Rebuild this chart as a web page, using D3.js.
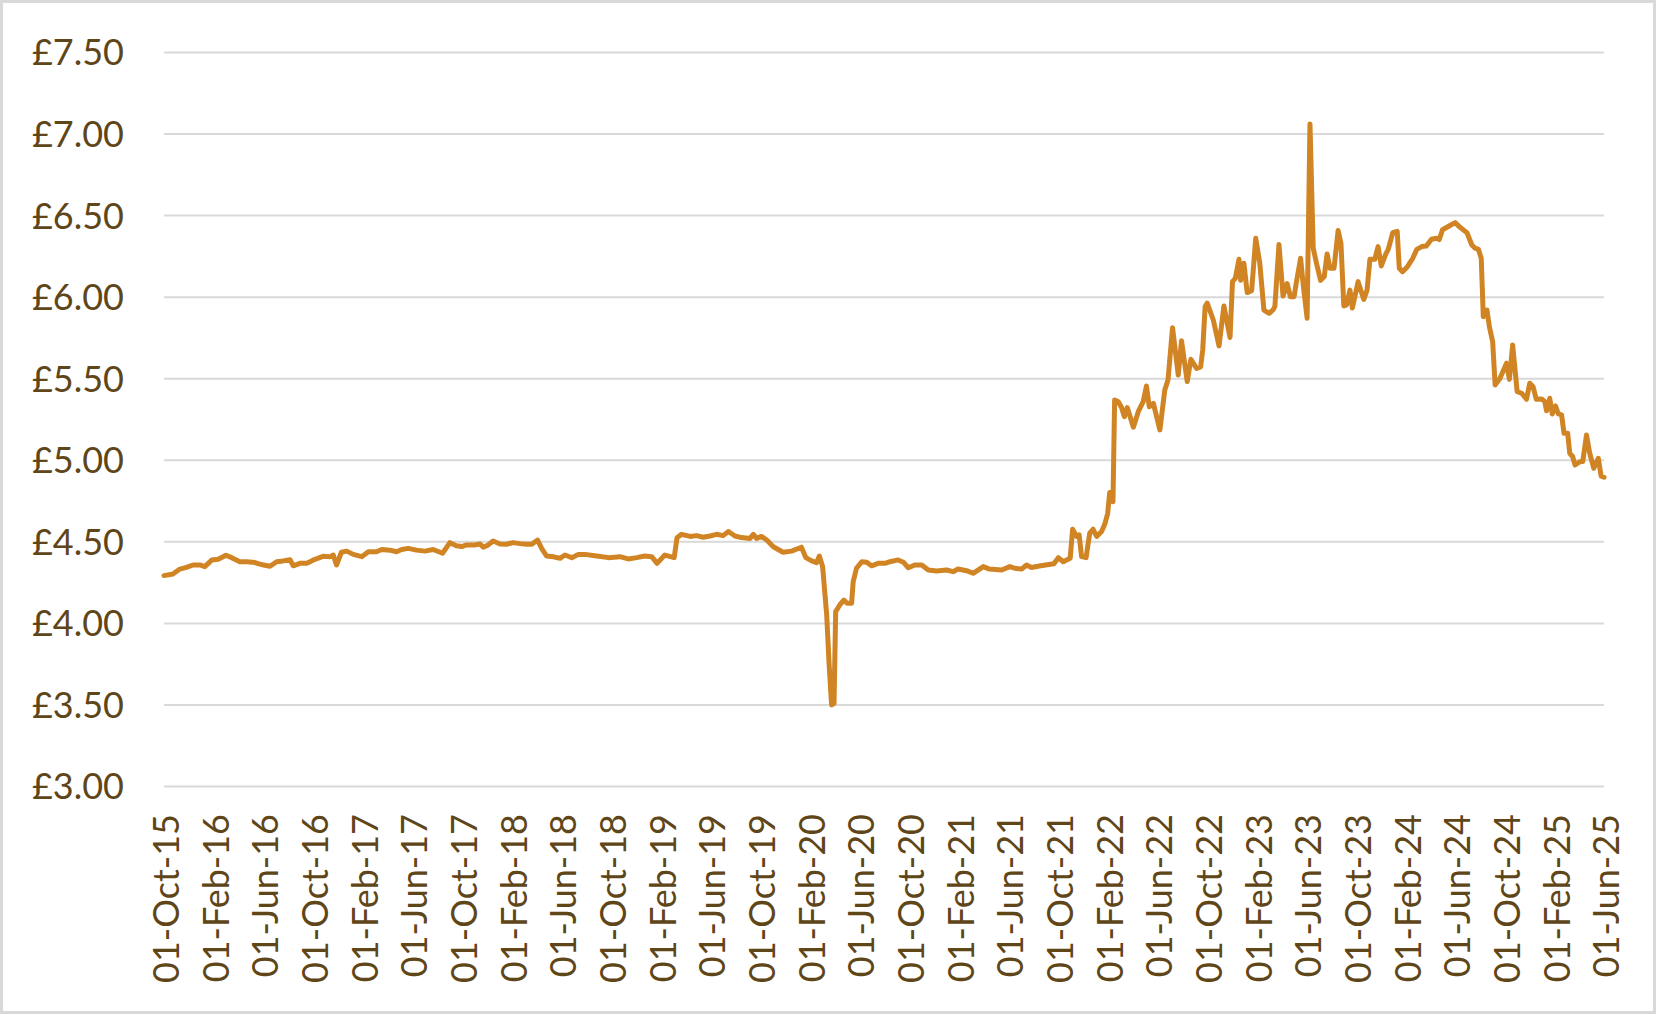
<!DOCTYPE html>
<html lang="en">
<head>
    <meta charset="UTF-8">
    <title>Weekly price</title>
    <script src="https://d3js.org/d3.v7.min.js"></script>
    <style>
        body {
            margin: 0;
            background: #fff;
        }
        .axis text {
            font-family: 'Lato', 'Open Sans', sans-serif;
            font-size: 36px;
            fill: #5f4619;
        }
        .grid line {
            stroke: #d9d9d9;
            stroke-width: 2;
        }
    </style>
</head>
<body>
<div id="chart"></div>
<script>
    // price readings, [date, £]
    const prices2015to2018 = [
        ["2015-10-01", 4.29], ["2015-10-23", 4.30], ["2015-11-09", 4.33], ["2015-11-25", 4.34],
        ["2015-12-11", 4.355], ["2015-12-28", 4.355], ["2016-01-09", 4.345], ["2016-01-26", 4.385],
        ["2016-02-11", 4.39], ["2016-03-01", 4.415], ["2016-03-15", 4.40], ["2016-04-04", 4.375],
        ["2016-04-21", 4.375], ["2016-05-11", 4.37], ["2016-05-23", 4.36], ["2016-06-01", 4.355],
        ["2016-06-17", 4.347], ["2016-07-03", 4.375], ["2016-07-19", 4.38], ["2016-08-05", 4.387],
        ["2016-08-13", 4.35], ["2016-08-29", 4.365], ["2016-09-15", 4.365], ["2016-09-23", 4.375],
        ["2016-10-05", 4.39], ["2016-10-25", 4.408], ["2016-11-11", 4.405], ["2016-11-19", 4.416],
        ["2016-11-27", 4.355], ["2016-12-09", 4.433], ["2016-12-22", 4.44], ["2017-01-07", 4.42],
        ["2017-01-28", 4.406], ["2017-02-13", 4.436], ["2017-03-05", 4.436], ["2017-03-18", 4.45],
        ["2017-04-07", 4.446], ["2017-04-23", 4.436], ["2017-05-06", 4.45], ["2017-05-22", 4.457],
        ["2017-06-11", 4.446], ["2017-07-02", 4.44], ["2017-07-22", 4.45], ["2017-08-14", 4.427],
        ["2017-09-01", 4.492], ["2017-09-17", 4.473], ["2017-09-30", 4.468], ["2017-10-12", 4.478],
        ["2017-11-01", 4.478], ["2017-11-14", 4.484], ["2017-11-22", 4.464], ["2017-12-04", 4.478],
        ["2017-12-16", 4.502], ["2018-01-02", 4.484], ["2018-01-18", 4.482], ["2018-02-03", 4.492],
        ["2018-02-20", 4.486], ["2018-03-08", 4.482], ["2018-03-21", 4.482], ["2018-04-04", 4.508],
        ["2018-04-14", 4.457], ["2018-04-26", 4.41], ["2018-05-13", 4.405], ["2018-05-29", 4.396],
        ["2018-06-10", 4.416], ["2018-06-27", 4.40], ["2018-07-13", 4.42]
    ];

    const prices2018to2021 = [
        ["2018-07-29", 4.42], ["2018-08-27", 4.41], ["2018-09-25", 4.40], ["2018-10-23", 4.406],
        ["2018-11-12", 4.392], ["2018-12-03", 4.40], ["2018-12-23", 4.41], ["2019-01-09", 4.406],
        ["2019-01-22", 4.365], ["2019-02-10", 4.416], ["2019-03-05", 4.40], ["2019-03-12", 4.522],
        ["2019-03-23", 4.543], ["2019-04-13", 4.53], ["2019-04-29", 4.535], ["2019-05-15", 4.525],
        ["2019-06-01", 4.533], ["2019-06-17", 4.543], ["2019-07-03", 4.535], ["2019-07-16", 4.56],
        ["2019-08-01", 4.533], ["2019-08-17", 4.523], ["2019-09-07", 4.518], ["2019-09-15", 4.543],
        ["2019-09-23", 4.518], ["2019-10-05", 4.53], ["2019-10-18", 4.508], ["2019-11-03", 4.467],
        ["2019-11-27", 4.433], ["2019-12-18", 4.44], ["2020-01-11", 4.464], ["2020-01-22", 4.40],
        ["2020-02-05", 4.38], ["2020-02-17", 4.369], ["2020-02-24", 4.41], ["2020-03-03", 4.345],
        ["2020-03-13", 4.048], ["2020-03-19", 3.742], ["2020-03-25", 3.497], ["2020-03-31", 3.507],
        ["2020-04-04", 4.069], ["2020-04-14", 4.11], ["2020-04-24", 4.14], ["2020-05-02", 4.12],
        ["2020-05-13", 4.12], ["2020-05-17", 4.253], ["2020-05-25", 4.335], ["2020-06-07", 4.375],
        ["2020-06-19", 4.372], ["2020-07-01", 4.35], ["2020-07-17", 4.365], ["2020-08-03", 4.365],
        ["2020-08-15", 4.375], ["2020-09-04", 4.386], ["2020-09-17", 4.372], ["2020-09-29", 4.338],
        ["2020-10-15", 4.355], ["2020-11-01", 4.355], ["2020-11-17", 4.324], ["2020-12-07", 4.318],
        ["2021-01-01", 4.324], ["2021-01-17", 4.314], ["2021-01-29", 4.33], ["2021-02-19", 4.32],
        ["2021-03-07", 4.304], ["2021-04-01", 4.345], ["2021-04-16", 4.33]
    ];

    const prices2021to2023 = [
        ["2021-05-16", 4.324], ["2021-06-05", 4.345], ["2021-06-17", 4.335], ["2021-07-04", 4.33],
        ["2021-07-16", 4.355], ["2021-07-28", 4.34], ["2021-08-20", 4.35], ["2021-09-13", 4.36],
        ["2021-09-21", 4.363], ["2021-10-02", 4.40], ["2021-10-14", 4.375], ["2021-10-31", 4.396],
        ["2021-11-06", 4.574], ["2021-11-16", 4.53], ["2021-11-22", 4.54], ["2021-11-28", 4.406],
        ["2021-12-09", 4.40], ["2021-12-18", 4.55], ["2021-12-26", 4.574], ["2022-01-04", 4.53],
        ["2022-01-16", 4.56], ["2022-01-24", 4.606], ["2022-01-31", 4.672], ["2022-02-05", 4.80],
        ["2022-02-13", 4.743], ["2022-02-17", 5.367], ["2022-02-26", 5.356], ["2022-03-06", 5.32],
        ["2022-03-13", 5.264], ["2022-03-20", 5.32], ["2022-04-04", 5.20], ["2022-04-16", 5.295],
        ["2022-04-28", 5.356], ["2022-05-06", 5.452], ["2022-05-13", 5.325], ["2022-05-23", 5.346],
        ["2022-06-08", 5.183], ["2022-06-20", 5.428], ["2022-06-28", 5.49], ["2022-07-09", 5.81],
        ["2022-07-23", 5.52], ["2022-07-31", 5.73], ["2022-08-14", 5.48], ["2022-08-23", 5.616],
        ["2022-09-06", 5.56], ["2022-09-16", 5.57], ["2022-09-21", 5.673], ["2022-09-27", 5.94],
        ["2022-10-02", 5.96], ["2022-10-17", 5.857], ["2022-10-31", 5.698], ["2022-11-12", 5.943],
        ["2022-11-27", 5.75], ["2022-12-03", 6.092], ["2022-12-10", 6.113], ["2022-12-19", 6.229],
        ["2022-12-23", 6.10], ["2022-12-31", 6.205], ["2023-01-08", 6.025], ["2023-01-19", 6.037],
        ["2023-01-29", 6.358], ["2023-02-08", 6.205], ["2023-02-18", 5.918], ["2023-03-03", 5.898],
        ["2023-03-13", 5.92], ["2023-03-17", 5.94], ["2023-03-27", 6.32], ["2023-04-06", 6.004],
        ["2023-04-16", 6.08], ["2023-04-24", 6.00], ["2023-05-03", 6.00], ["2023-05-09", 6.092],
        ["2023-05-19", 6.235], ["2023-05-26", 6.061], ["2023-06-04", 5.868]
    ];

    const prices2023to2025 = [
        ["2023-06-11", 7.059], ["2023-06-19", 6.297], ["2023-06-27", 6.205], ["2023-07-07", 6.10],
        ["2023-07-16", 6.123], ["2023-07-23", 6.262], ["2023-07-30", 6.174], ["2023-08-09", 6.174],
        ["2023-08-19", 6.405], ["2023-08-26", 6.327], ["2023-09-02", 5.943], ["2023-09-09", 5.95],
        ["2023-09-17", 6.04], ["2023-09-23", 5.93], ["2023-10-07", 6.092], ["2023-10-21", 5.983],
        ["2023-10-29", 6.04], ["2023-11-05", 6.229], ["2023-11-17", 6.229], ["2023-11-25", 6.307],
        ["2023-12-03", 6.188], ["2023-12-14", 6.262], ["2023-12-20", 6.29], ["2023-12-31", 6.392],
        ["2024-01-11", 6.40], ["2024-01-16", 6.174], ["2024-01-24", 6.153], ["2024-02-05", 6.184],
        ["2024-02-18", 6.235], ["2024-02-28", 6.29], ["2024-03-11", 6.307], ["2024-03-22", 6.31],
        ["2024-04-04", 6.352], ["2024-04-17", 6.358], ["2024-04-23", 6.35], ["2024-05-01", 6.41],
        ["2024-05-15", 6.43], ["2024-06-01", 6.454], ["2024-06-13", 6.425], ["2024-06-30", 6.392],
        ["2024-07-12", 6.317], ["2024-07-20", 6.297], ["2024-07-28", 6.29], ["2024-08-04", 6.235],
        ["2024-08-09", 5.877], ["2024-08-18", 5.918], ["2024-08-24", 5.816], ["2024-09-01", 5.724],
        ["2024-09-07", 5.459], ["2024-09-19", 5.50], ["2024-10-05", 5.592], ["2024-10-12", 5.493],
        ["2024-10-20", 5.704], ["2024-10-31", 5.418], ["2024-11-11", 5.408], ["2024-11-23", 5.371],
        ["2024-12-01", 5.469], ["2024-12-09", 5.448], ["2024-12-17", 5.371], ["2024-12-30", 5.373],
        ["2025-01-07", 5.356], ["2025-01-11", 5.30], ["2025-01-19", 5.377], ["2025-01-25", 5.281],
        ["2025-02-02", 5.33], ["2025-02-09", 5.281], ["2025-02-17", 5.275], ["2025-02-23", 5.162],
        ["2025-03-04", 5.163], ["2025-03-09", 5.04], ["2025-03-16", 5.02], ["2025-03-22", 4.968],
        ["2025-04-03", 4.988], ["2025-04-10", 4.99], ["2025-04-19", 5.152], ["2025-04-27", 5.04],
        ["2025-05-07", 4.948], ["2025-05-18", 5.009], ["2025-05-25", 4.90], ["2025-06-01", 4.893]
    ];

    const yTicks = [3.0, 3.5, 4.0, 4.5, 5.0, 5.5, 6.0, 6.5, 7.0, 7.5];
    const xTickDates = [
        "2015-10-01", "2016-02-01", "2016-06-01", "2016-10-01", "2017-02-01", "2017-06-01",
        "2017-10-01", "2018-02-01", "2018-06-01", "2018-10-01", "2019-02-01", "2019-06-01",
        "2019-10-01", "2020-02-01", "2020-06-01", "2020-10-01", "2021-02-01", "2021-06-01",
        "2021-10-01", "2022-02-01", "2022-06-01", "2022-10-01", "2023-02-01", "2023-06-01",
        "2023-10-01", "2024-02-01", "2024-06-01", "2024-10-01", "2025-02-01", "2025-06-01"
    ];

    const W = 1656, H = 1014;
    const margin = { top: 52, right: 52, bottom: 228, left: 164 };
    const width = W - margin.left - margin.right;
    const height = H - margin.top - margin.bottom;

    const parse = d3.timeParse("%Y-%m-%d");
    const data = [...prices2015to2018, ...prices2018to2021, ...prices2021to2023, ...prices2023to2025]
        .map(d => ({ date: parse(d[0]), value: d[1] }));

    const svg = d3.select("#chart")
        .append("svg")
        .attr("width", W)
        .attr("height", H);

    // outer chart border
    svg.append("rect")
        .attr("x", 1.5).attr("y", 1.5)
        .attr("width", W - 3).attr("height", H - 3)
        .attr("fill", "#fff")
        .attr("stroke", "#d9d9d9")
        .attr("stroke-width", 3);

    const g = svg.append("g")
        .attr("transform", `translate(${margin.left},${margin.top})`);

    const x = d3.scaleTime()
        .domain([parse(xTickDates[0]), parse(xTickDates[xTickDates.length - 1])])
        .range([0, width]);

    const y = d3.scaleLinear()
        .domain([3, 7.5])
        .range([height, 0]);

    const yAxis = g.append("g")
        .attr("class", "axis grid")
        .call(d3.axisLeft(y)
            .tickValues(yTicks)
            .tickSize(-width)
            .tickPadding(40)
            .tickFormat(d => "£" + d.toFixed(2)));
    yAxis.select(".domain").remove();
    yAxis.selectAll("text").attr("dy", "0.36em");

    const xAxis = g.append("g")
        .attr("class", "axis")
        .attr("transform", `translate(0,${height})`)
        .call(d3.axisBottom(x)
            .tickValues(xTickDates.map(parse))
            .tickSize(0)
            .tickFormat(d3.timeFormat("%d-%b-%y")));
    xAxis.select(".domain").remove();
    xAxis.selectAll("text")
        .attr("transform", "rotate(-90)")
        .attr("text-anchor", "end")
        .attr("x", -28)
        .attr("y", 1.5)
        .attr("dy", "0.36em");

    const line = d3.line()
        .x(d => x(d.date))
        .y(d => y(d.value));

    g.append("path")
        .datum(data)
        .attr("fill", "none")
        .attr("stroke", "#d18424")
        .attr("stroke-width", 5)
        .attr("stroke-linejoin", "round")
        .attr("stroke-linecap", "round")
        .attr("d", line);
</script>
</body>
</html>
